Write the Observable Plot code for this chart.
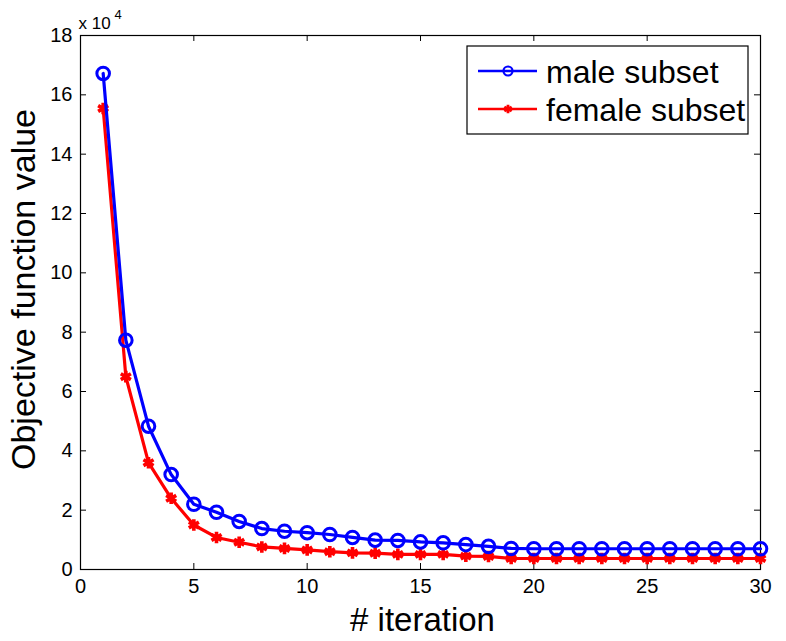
<!DOCTYPE html>
<html>
<head>
<meta charset="utf-8">
<script src="https://cdn.jsdelivr.net/npm/d3@7"></script>
<script src="https://cdn.jsdelivr.net/npm/@observablehq/plot@0.6"></script>
<style>
  html, body { margin: 0; padding: 0; background: #fff; }
  #chart { position: relative; width: 786px; height: 641px; font-family: "Liberation Sans", Arial, Helvetica, sans-serif; }
  #chart svg { display: block; }
  #legend { position: absolute; left: 0; top: 0; pointer-events: none; }
</style>
</head>
<body>
<div id="chart"></div>
<script>
// Objective function value per iteration (in units of 10^4)
const iterations = d3.range(1, 31);
const male = [16.72, 7.73, 4.83, 3.20, 2.20, 1.93, 1.62, 1.38, 1.29, 1.24,
              1.18, 1.08, 0.99, 0.98, 0.93, 0.90, 0.84, 0.78, 0.71, 0.70,
              0.70, 0.70, 0.70, 0.70, 0.70, 0.70, 0.70, 0.70, 0.70, 0.70];
const female = [15.54, 6.50, 3.60, 2.40, 1.50, 1.08, 0.92, 0.76, 0.71, 0.66,
                0.60, 0.56, 0.55, 0.51, 0.51, 0.51, 0.45, 0.44, 0.37, 0.37,
                0.37, 0.37, 0.37, 0.37, 0.37, 0.37, 0.37, 0.37, 0.37, 0.37];
const seriesNames = ["male subset", "female subset"];
const seriesColors = ["#0000ff", "#ff0000"];
const xTicks = [0, 5, 10, 15, 20, 25, 30];
const yTicks = [0, 2, 4, 6, 8, 10, 12, 14, 16, 18];
const xLabel = "# iteration";
const yLabel = "Objective function value";
const exponentBase = "x 10";
const exponent = "4";

const maleRows = iterations.map((it, i) => ({it, v: male[i]}));
const femaleRows = iterations.map((it, i) => ({it, v: female[i]}));

const W = 786, H = 641;
const mL = 80, mR = 26, mT = 35, mB = 72;
const innerH = H - mT - mB;
const innerW = W - mL - mR;
const tickLen = 6;
const font = "Liberation Sans, Arial, Helvetica, sans-serif";

const plot = Plot.plot({
  width: W,
  height: H,
  marginLeft: mL,
  marginRight: mR,
  marginTop: mT,
  marginBottom: mB,
  style: {fontFamily: font, background: "#fff", color: "#000"},
  x: {domain: [0, 30]},
  y: {domain: [0, 18]},
  marks: [
    // tick labels
    Plot.axisX(xTicks, {tickSize: 0, tickPadding: 9, fontSize: 20, label: null}),
    Plot.axisY(yTicks, {tickSize: 0, tickPadding: 8, fontSize: 20, label: null}),
    // inward tick marks on all four sides
    Plot.tickX(xTicks, {x: d => d, insetTop: innerH - tickLen, stroke: "#000", strokeWidth: 1}),
    Plot.tickX(xTicks, {x: d => d, insetBottom: innerH - tickLen, stroke: "#000", strokeWidth: 1}),
    Plot.tickY(yTicks, {y: d => d, insetRight: innerW - tickLen, stroke: "#000", strokeWidth: 1}),
    Plot.tickY(yTicks, {y: d => d, insetLeft: innerW - tickLen, stroke: "#000", strokeWidth: 1}),
    Plot.frame({stroke: "#000", strokeWidth: 1.2}),
    // female series
    Plot.line(femaleRows, {x: "it", y: "v", stroke: seriesColors[1], strokeWidth: 3.2}),
    Plot.dot(femaleRows, {x: "it", y: "v", symbol: "asterisk", r: 5.5, stroke: seriesColors[1], strokeWidth: 3.6}),
    // male series
    Plot.line(maleRows, {x: "it", y: "v", stroke: seriesColors[0], strokeWidth: 3.2}),
    Plot.dot(maleRows, {x: "it", y: "v", symbol: "circle", r: 6.3, stroke: seriesColors[0], strokeWidth: 3, fill: "none"}),
    // axis titles
    Plot.text([xLabel], {frameAnchor: "bottom", lineAnchor: "middle", textAnchor: "middle", dx: 2, dy: 51, fontSize: 33, fill: "#000"}),
    Plot.text([yLabel], {frameAnchor: "left", lineAnchor: "middle", textAnchor: "middle", rotate: -90, dx: -56, dy: -13, fontSize: 34, fill: "#000"}),
    // exponent multiplier above the y axis
    Plot.text([exponentBase], {frameAnchor: "top-left", textAnchor: "start", lineAnchor: "bottom", dx: -2, dy: -7, fontSize: 17, fill: "#000"}),
    Plot.text([exponent], {frameAnchor: "top-left", textAnchor: "start", lineAnchor: "bottom", dx: 34, dy: -17, fontSize: 13, fill: "#000"})
  ]
});

const chart = document.getElementById("chart");
chart.appendChild(plot);

// Legend box in the upper right of the axes
const lg = d3.select(chart).append("svg")
  .attr("id", "legend")
  .attr("width", W)
  .attr("height", H);

const box = {x: 467, y: 46, w: 281, h: 88};
lg.append("rect")
  .attr("x", box.x).attr("y", box.y)
  .attr("width", box.w).attr("height", box.h)
  .attr("fill", "#fff").attr("stroke", "#000").attr("stroke-width", 1.2);

const rowY = [71, 109];
seriesNames.forEach((name, i) => {
  const g = lg.append("g");
  g.append("line")
    .attr("x1", box.x + 11).attr("x2", box.x + 70)
    .attr("y1", rowY[i]).attr("y2", rowY[i])
    .attr("stroke", seriesColors[i]).attr("stroke-width", 2.4);
  const cx = box.x + 41;
  if (i === 0) {
    g.append("circle").attr("cx", cx).attr("cy", rowY[i]).attr("r", 4.5)
      .attr("fill", "none").attr("stroke", seriesColors[i]).attr("stroke-width", 2.2);
  } else {
    g.append("path")
      .attr("transform", `translate(${cx},${rowY[i]})`)
      .attr("d", d3.symbol(d3.symbolAsterisk, 50)())
      .attr("fill", "none").attr("stroke", seriesColors[i]).attr("stroke-width", 2.8);
  }
  g.append("text")
    .attr("x", box.x + 79).attr("y", rowY[i])
    .attr("dy", "0.36em")
    .attr("font-family", font)
    .attr("font-size", 32)
    .attr("fill", "#000")
    .text(name);
});
</script>
</body>
</html>
